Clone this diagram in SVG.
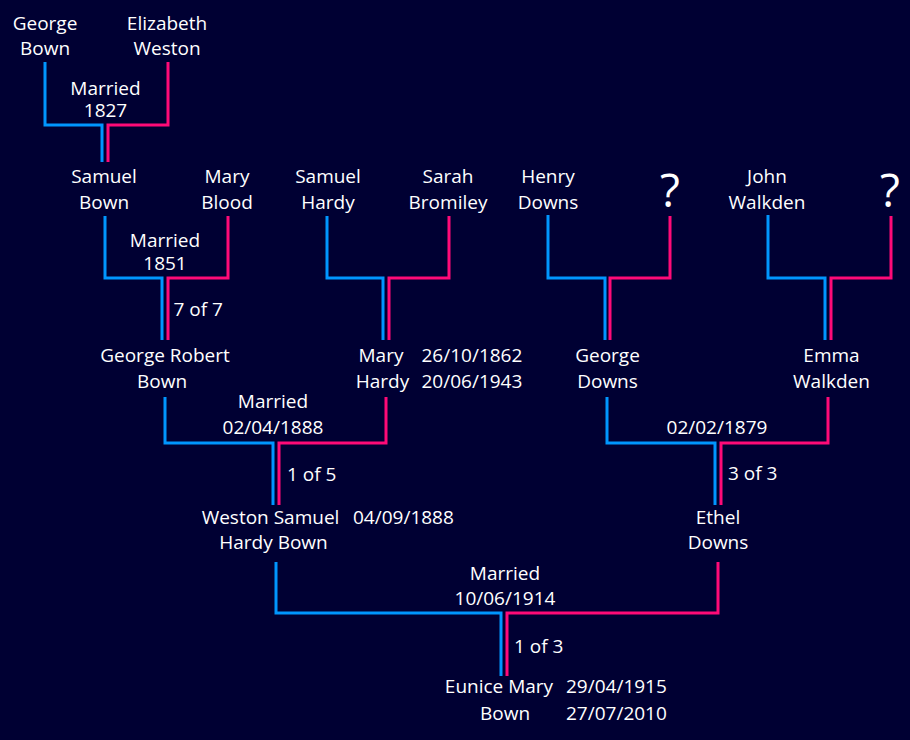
<svg xmlns="http://www.w3.org/2000/svg" width="910" height="740" viewBox="0 0 910 740">
<style>
.t{font-family:"Open Sans","Noto Sans",sans-serif;font-size:19px;fill:#ffffff;text-anchor:middle}
.s{text-anchor:start}
.q{font-size:46px}
.b{fill:none;stroke:#0096ff;stroke-width:3}
.p{fill:none;stroke:#ff0a78;stroke-width:3}
</style>
<rect width="910" height="740" fill="#000033"/>
<g id="connectors">
<polyline class="b" points="45,62 45,125 102,125 102,162"/>
<polyline class="p" points="168,62 168,125 108,125 108,162"/>
<polyline class="b" points="105,216 105,278 162,278 162,340"/>
<polyline class="p" points="228,216 228,278 168,278 168,340"/>
<polyline class="b" points="327,216 327,278 383,278 383,340"/>
<polyline class="p" points="449,216 449,278 389,278 389,340"/>
<polyline class="b" points="548,215 548,278 605,278 605,340"/>
<polyline class="p" points="670,216 670,278 610,278 610,340"/>
<polyline class="b" points="768,215 768,278 825,278 825,340"/>
<polyline class="p" points="891,216 891,278 831,278 831,340"/>
<polyline class="b" points="165,397 165,443 273,443 273,505"/>
<polyline class="p" points="386,397 386,443 279,443 279,505"/>
<polyline class="b" points="607,397 607,443 715,443 715,505"/>
<polyline class="p" points="828,397 828,443 721,443 721,505"/>
<polyline class="b" points="276,562 276,613 501,613 501,676"/>
<polyline class="p" points="718,562 718,613 507,613 507,676"/>
</g>
<g id="george-bown"><text class="t" x="45" y="30">George</text><text class="t" x="45" y="55">Bown</text></g>
<g id="elizabeth-weston"><text class="t" x="167" y="30">Elizabeth</text><text class="t" x="167" y="55">Weston</text></g>
<g id="marriage-1827"><text class="t" x="105.5" y="95">Married</text><text class="t" x="105.5" y="117">1827</text></g>
<g id="samuel-bown"><text class="t" x="104" y="183">Samuel</text><text class="t" x="104" y="208.5">Bown</text></g>
<g id="mary-blood"><text class="t" x="227" y="183">Mary</text><text class="t" x="227" y="208.5">Blood</text></g>
<g id="samuel-hardy"><text class="t" x="328" y="183">Samuel</text><text class="t" x="328" y="208.5">Hardy</text></g>
<g id="sarah-bromiley"><text class="t" x="448" y="183">Sarah</text><text class="t" x="448" y="208.5">Bromiley</text></g>
<g id="henry-downs"><text class="t" x="548" y="183">Henry</text><text class="t" x="548" y="208.5">Downs</text></g>
<g id="unknown-1"><text class="t q" x="670" y="207">?</text></g>
<g id="john-walkden"><text class="t" x="767" y="183">John</text><text class="t" x="767" y="208.5">Walkden</text></g>
<g id="unknown-2"><text class="t q" x="890" y="207">?</text></g>
<g id="marriage-1851"><text class="t" x="165" y="247">Married</text><text class="t" x="165" y="270">1851</text><text class="t s" x="173.5" y="316">7 of 7</text></g>
<g id="george-robert-bown"><text class="t" x="165" y="362">George Robert</text><text class="t" x="162" y="388">Bown</text></g>
<g id="mary-hardy"><text class="t" x="381" y="362">Mary</text><text class="t" x="382.5" y="388">Hardy</text><text class="t s" x="421.5" y="362">26/10/1862</text><text class="t s" x="421.5" y="388">20/06/1943</text></g>
<g id="george-downs"><text class="t" x="607.5" y="362">George</text><text class="t" x="607.5" y="388">Downs</text></g>
<g id="emma-walkden"><text class="t" x="831.5" y="362">Emma</text><text class="t" x="831.5" y="388">Walkden</text></g>
<g id="marriage-1888"><text class="t" x="273" y="408">Married</text><text class="t" x="273" y="434">02/04/1888</text><text class="t s" x="287" y="481">1 of 5</text></g>
<g id="marriage-1879"><text class="t" x="717" y="434">02/02/1879</text><text class="t s" x="728" y="480">3 of 3</text></g>
<g id="weston-samuel-hardy-bown"><text class="t" x="270.5" y="523.5">Weston Samuel</text><text class="t" x="273.5" y="549">Hardy Bown</text><text class="t s" x="353" y="523.5">04/09/1888</text></g>
<g id="ethel-downs"><text class="t" x="718" y="523.5">Ethel</text><text class="t" x="718" y="549">Downs</text></g>
<g id="marriage-1914"><text class="t" x="505" y="579.5">Married</text><text class="t" x="505" y="604.5">10/06/1914</text><text class="t s" x="514" y="652.5">1 of 3</text></g>
<g id="eunice-mary-bown"><text class="t" x="499" y="693">Eunice Mary</text><text class="t" x="505" y="720">Bown</text><text class="t s" x="566" y="693">29/04/1915</text><text class="t s" x="566" y="720">27/07/2010</text></g>
</svg>
